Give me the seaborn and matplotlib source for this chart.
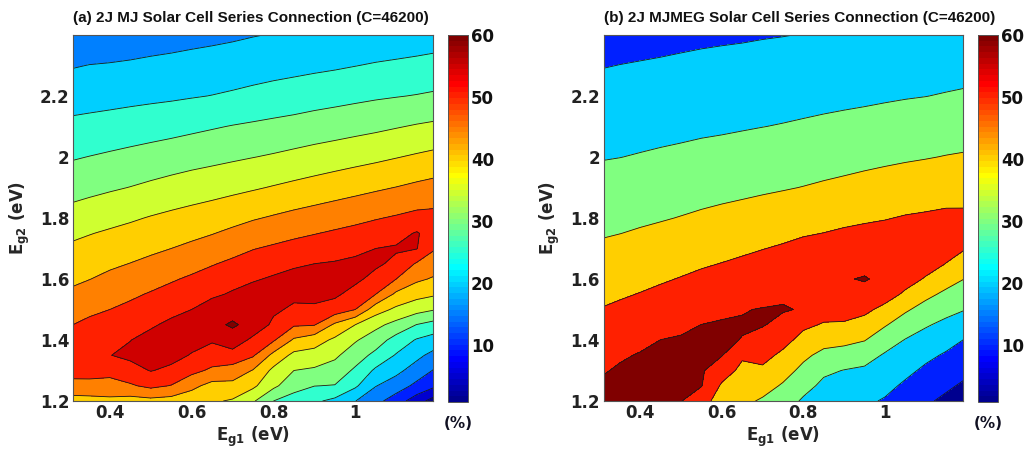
import numpy as np
import matplotlib
matplotlib.use("Agg")
import matplotlib.pyplot as plt
import seaborn as sns
from matplotlib.colors import Normalize, ListedColormap
from matplotlib.cm import ScalarMappable

# ---------------- data ----------------
eg1 = [0.30, 0.35, 0.40, 0.45, 0.50, 0.55, 0.60, 0.65, 0.70, 0.75,
       0.80, 0.85, 0.90, 0.95, 1.00, 1.05, 1.10, 1.15, 1.20]
eg2 = [1.20, 1.25, 1.30, 1.35, 1.40, 1.45, 1.50, 1.55, 1.60, 1.65,
       1.70, 1.75, 1.80, 1.90, 2.00, 2.10, 2.20, 2.30, 2.40]

# efficiency (%) of 2J MJ cell, rows follow eg2, columns follow eg1
eff_mj = [
    [43.0, 43.5, 44.0, 43.0, 43.5, 43.0, 42.0, 40.6, 39.5, 35.6, 30.0, 27.9, 25.8, 23.8, 20.1, 16.5, 12.5, 7.3, 2.0],
    [48.3, 48.0, 47.7, 49.4, 51.2, 49.8, 46.3, 43.4, 43.4, 41.0, 36.1, 31.8, 30.1, 29.8, 25.8, 20.2, 17.5, 13.8, 10.3],
    [52.0, 52.5, 52.0, 53.3, 55.2, 54.0, 51.4, 49.1, 48.3, 44.7, 38.8, 35.0, 34.2, 32.9, 29.2, 24.1, 21.3, 17.8, 14.1],
    [53.5, 54.5, 54.9, 56.0, 57.0, 56.5, 54.7, 52.9, 52.6, 50.6, 43.6, 38.7, 38.2, 35.9, 32.3, 28.7, 24.6, 21.3, 17.9],
    [52.5, 54.0, 54.0, 54.9, 56.5, 57.5, 56.5, 55.5, 58.6, 53.6, 50.6, 44.3, 42.1, 39.1, 35.5, 32.4, 28.1, 24.6, 22.6],
    [49.7, 51.2, 52.0, 53.0, 54.4, 56.0, 57.5, 59.2, 60.4, 59.0, 53.8, 50.6, 50.3, 44.1, 40.0, 36.3, 33.4, 29.9, 27.9],
    [47.7, 48.9, 50.0, 51.1, 52.4, 53.7, 55.0, 57.5, 58.8, 58.5, 56.0, 54.0, 54.2, 52.9, 50.0, 42.2, 39.0, 36.8, 35.0],
    [45.7, 46.9, 48.0, 49.2, 50.4, 51.6, 52.8, 54.1, 55.6, 57.0, 57.5, 56.3, 56.3, 55.8, 53.3, 50.0, 44.0, 41.7, 40.4],
    [44.0, 44.9, 46.1, 47.1, 48.2, 49.5, 50.7, 51.9, 53.2, 54.5, 55.6, 56.8, 57.0, 57.0, 56.0, 53.5, 50.0, 45.9, 44.2],
    [42.4, 43.2, 44.2, 45.1, 46.1, 47.2, 48.4, 49.7, 50.9, 52.2, 53.2, 54.2, 55.0, 55.4, 56.0, 55.8, 53.9, 49.5, 47.2],
    [40.7, 41.5, 42.4, 43.2, 44.1, 45.0, 46.0, 47.2, 48.5, 49.8, 50.7, 51.6, 52.4, 53.0, 53.9, 55.0, 55.5, 55.2, 50.0],
    [38.9, 39.8, 40.6, 41.4, 42.2, 43.0, 43.9, 44.8, 46.0, 47.2, 48.1, 49.0, 49.8, 50.6, 51.4, 52.3, 53.3, 55.4, 52.5],
    [36.8, 37.7, 38.6, 39.4, 40.3, 41.1, 41.8, 42.6, 43.5, 44.6, 45.5, 46.4, 47.2, 48.0, 48.8, 49.7, 50.5, 51.4, 51.5],
    [33.0, 33.7, 34.4, 35.1, 35.9, 36.7, 37.5, 38.1, 38.8, 39.5, 40.3, 41.1, 41.9, 42.7, 43.5, 44.3, 45.1, 46.0, 46.8],
    [29.5, 30.1, 30.7, 31.3, 31.9, 32.5, 33.1, 33.7, 34.3, 34.9, 35.5, 36.2, 36.9, 37.6, 38.3, 39.0, 39.8, 40.6, 41.4],
    [26.1, 26.5, 26.9, 27.4, 27.9, 28.4, 29.0, 29.6, 30.2, 30.7, 31.2, 31.7, 32.3, 32.8, 33.4, 34.0, 34.7, 35.4, 36.0],
    [22.8, 23.1, 23.4, 23.7, 24.0, 24.3, 24.7, 25.1, 25.6, 26.2, 26.8, 27.3, 27.9, 28.4, 28.9, 29.4, 29.8, 30.2, 30.7],
    [19.6, 20.1, 20.3, 20.6, 21.0, 21.3, 21.7, 22.0, 22.4, 22.8, 23.2, 23.6, 24.0, 24.4, 24.9, 25.4, 25.8, 26.2, 26.7],
    [16.3, 16.6, 17.0, 17.3, 17.7, 18.1, 18.5, 18.9, 19.3, 19.8, 20.2, 20.5, 20.8, 21.0, 21.3, 21.6, 21.9, 22.3, 22.7],
]

# efficiency (%) of 2J MJMEG cell
eff_mjmeg = [
    [62.0, 62.5, 62.5, 62.5, 60.3, 54.1, 45.3, 42.2, 38.8, 34.9, 28.6, 24.8, 23.2, 21.7, 19.1, 14.6, 11.4, 8.0, 4.0],
    [61.0, 61.8, 62.0, 62.2, 61.0, 60.4, 48.7, 44.9, 43.6, 39.0, 33.2, 27.9, 26.5, 25.1, 22.5, 18.5, 14.8, 11.6, 8.2],
    [59.1, 60.9, 61.2, 61.6, 61.3, 61.0, 54.5, 47.7, 48.4, 43.5, 37.7, 31.7, 29.7, 28.5, 25.7, 22.2, 18.3, 15.3, 11.9],
    [56.9, 59.1, 60.5, 60.9, 61.2, 61.2, 60.4, 51.3, 52.8, 48.1, 41.9, 37.5, 36.0, 33.7, 29.0, 25.9, 22.1, 18.9, 15.6],
    [54.6, 56.6, 58.2, 60.05, 60.6, 61.0, 61.0, 59.8, 56.9, 52.9, 47.1, 43.3, 42.5, 40.4, 34.4, 29.6, 26.4, 23.2, 19.3],
    [52.4, 54.2, 55.6, 57.3, 58.7, 60.05, 60.7, 60.5, 60.5, 57.6, 51.7, 49.3, 49.0, 46.7, 40.8, 35.2, 30.9, 27.8, 24.4],
    [50.2, 51.5, 52.9, 54.5, 55.9, 57.2, 58.6, 59.7, 60.3, 60.6, 59.4, 53.5, 53.5, 52.0, 47.5, 41.3, 36.4, 32.7, 30.0],
    [48.0, 49.1, 50.3, 51.7, 53.2, 54.5, 55.8, 56.9, 57.8, 58.8, 58.7, 57.0, 57.5, 58.2, 53.9, 48.5, 42.4, 38.0, 34.8],
    [45.8, 46.8, 47.9, 49.1, 50.4, 51.8, 53.0, 54.2, 55.2, 56.2, 57.2, 58.3, 59.6, 60.4, 58.6, 53.5, 49.2, 43.8, 39.5],
    [43.5, 44.5, 45.6, 46.6, 47.8, 49.1, 50.2, 51.4, 52.5, 53.5, 54.8, 56.7, 57.5, 58.4, 57.5, 56.0, 53.5, 49.8, 44.7],
    [41.3, 42.2, 43.2, 44.2, 45.3, 46.5, 47.5, 48.6, 49.8, 50.9, 52.3, 53.4, 55.0, 55.8, 55.3, 56.0, 55.5, 53.0, 50.0],
    [39.2, 39.9, 40.8, 41.8, 42.8, 43.9, 44.8, 45.8, 46.9, 48.1, 49.3, 50.1, 51.2, 52.1, 52.5, 54.0, 54.5, 54.0, 52.3],
    [37.2, 37.9, 38.7, 39.4, 40.3, 41.3, 42.2, 43.1, 44.1, 45.1, 46.3, 47.1, 48.0, 48.8, 49.6, 50.6, 51.2, 51.8, 51.5],
    [33.3, 33.9, 34.6, 35.3, 36.0, 36.7, 37.4, 38.0, 38.7, 39.4, 40.2, 41.1, 42.0, 42.9, 43.8, 44.6, 45.3, 46.2, 46.9],
    [29.5, 29.9, 30.5, 31.1, 31.7, 32.4, 32.9, 33.5, 34.3, 34.9, 35.5, 36.2, 36.8, 37.6, 38.3, 39.0, 39.6, 40.3, 40.9],
    [26.2, 26.6, 27.1, 27.6, 28.0, 28.5, 28.9, 29.4, 29.9, 30.4, 31.0, 31.6, 32.2, 32.8, 33.5, 34.1, 34.6, 35.4, 35.7],
    [22.9, 23.4, 23.8, 24.3, 24.7, 25.2, 25.6, 26.0, 26.4, 26.8, 27.2, 27.7, 28.1, 28.5, 29.0, 29.5, 29.9, 30.5, 31.1],
    [19.6, 20.1, 20.5, 20.9, 21.4, 21.8, 22.2, 22.5, 22.9, 23.3, 23.7, 24.1, 24.5, 24.9, 25.3, 25.7, 26.2, 26.6, 27.0],
    [16.3, 16.8, 17.2, 17.6, 18.0, 18.5, 18.8, 19.1, 19.5, 19.8, 20.2, 20.5, 20.9, 21.3, 21.6, 22.0, 22.4, 22.8, 23.2],
]

levels_mj = [0, 5, 10, 15, 20, 25, 30, 35, 40, 45, 50, 55, 60, 70]
levels_mjmeg = [0, 10, 20, 30, 40, 50, 60, 70]

titles = ["(a) 2J MJ Solar Cell Series Connection (C=46200)",
          "(b) 2J MJMEG Solar Cell Series Connection (C=46200)"]
xticks = [0.4, 0.6, 0.8, 1.0]
xticklabels = ["0.4", "0.6", "0.8", "1"]
yticks = [1.2, 1.4, 1.6, 1.8, 2.0, 2.2]
yticklabels = ["1.2", "1.4", "1.6", "1.8", "2", "2.2"]
cbar_ticks = [10, 20, 30, 40, 50, 60]
xlabel = r"E$_{\mathbf{g1}}$ (eV)"
ylabel = r"E$_{\mathbf{g2}}$ (eV)"
unit_label = "(%)"

# ---------------- style ----------------
sns.set_theme(style="white")
plt.rcParams["font.family"] = ["DejaVu Sans"]
plt.rcParams["font.weight"] = "bold"
plt.rcParams["mathtext.fontset"] = "dejavusans"


def matlab_jet(n=64):
    """Classic MATLAB jet colormap (n entries)."""
    m = n // 4
    u = np.concatenate([np.arange(1, m + 1) / m, np.ones(m - 1), np.arange(m, 0, -1) / m])
    g = int(np.ceil(m / 2)) - (1 if n % 4 == 1 else 0) + np.arange(1, len(u) + 1)
    r = g + m
    b = g - m
    J = np.zeros((n, 3))
    for idx, val in zip(r, u):
        if 1 <= idx <= n:
            J[idx - 1, 0] = val
    for idx, val in zip(g, u):
        if 1 <= idx <= n:
            J[idx - 1, 1] = val
    for idx, val in zip(b, u):
        if 1 <= idx <= n:
            J[idx - 1, 2] = val
    return ListedColormap(J)


cmap = matlab_jet(64)
norm = Normalize(vmin=0.8, vmax=60.0)

W, H = 1026, 451
fig = plt.figure(figsize=(W / 100, H / 100), dpi=100)

panels = [
    dict(ax=(73, 35, 360, 366), cax=(448, 35, 20, 367), Z=eff_mj, levels=levels_mj, title=titles[0]),
    dict(ax=(603.5, 35, 359, 366), cax=(978, 35, 20, 367), Z=eff_mjmeg, levels=levels_mjmeg, title=titles[1]),
]

X, Y = np.meshgrid(np.array(eg1), np.array(eg2))


def frac(box):
    x, y, w, h = box
    return [x / W, 1 - (y + h) / H, w / W, h / H]


for p in panels:
    ax = fig.add_axes(frac(p["ax"]))
    Z = np.array(p["Z"])
    lev = p["levels"]
    band_colors = [cmap(float(np.clip(norm(l), 0.0, 1.0))) for l in lev[:-1]]
    ax.contourf(X, Y, Z, levels=lev, colors=band_colors)
    ax.contour(X, Y, Z, levels=lev[1:-1], colors="k", linewidths=0.6)
    ax.set_xlim(0.31, 1.19)
    ax.set_ylim(1.2, 2.4)
    ax.set_xticks(xticks)
    ax.set_xticklabels(xticklabels)
    ax.set_yticks(yticks)
    ax.set_yticklabels(yticklabels)
    ax.tick_params(direction="in", top=True, right=True, length=4, width=0.7,
                   labelsize=12, colors="#222222", pad=2.5)
    for s in ax.spines.values():
        s.set_linewidth(0.8)
        s.set_color("#555555")
    ax.set_xlabel(xlabel, fontsize=12, fontweight="bold")
    ax.xaxis.set_label_coords(0.5, -0.066)
    ax.set_ylabel(ylabel, fontsize=12, fontweight="bold")
    ax.yaxis.set_label_coords(-0.115, 0.5)

    x0 = p["ax"][0]
    fig.text(x0 / W, 1 - 18 / H, p["title"], ha="left", va="center",
             fontsize=11, fontweight="bold", color="#111111",
             family=["Liberation Sans", "DejaVu Sans"])

    cax = fig.add_axes(frac(p["cax"]))
    cb = fig.colorbar(ScalarMappable(norm=norm, cmap=cmap), cax=cax, ticks=cbar_ticks)
    cb.ax.tick_params(direction="in", length=3, width=0.7, labelsize=12, pad=2, colors="#111111")
    cb.outline.set_linewidth(0.7)
    cb.outline.set_edgecolor("#555555")
    cx = p["cax"][0] + p["cax"][2] / 2
    fig.text(cx / W, 1 - 424 / H, unit_label, ha="center", va="center",
             fontsize=11, fontweight="bold", color="#111122")

fig.savefig("out.png", dpi=100)
